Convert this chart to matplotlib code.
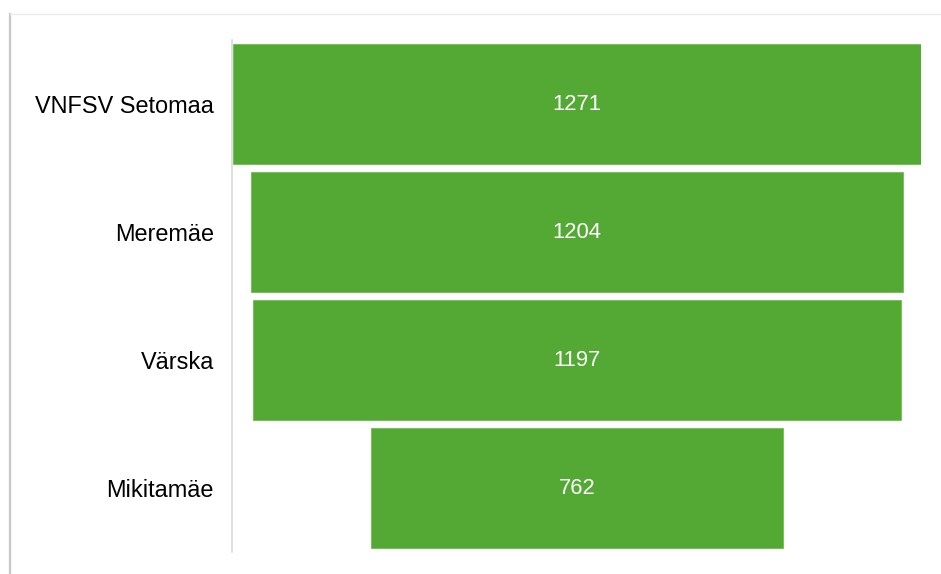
import matplotlib.pyplot as plt
from matplotlib.lines import Line2D

# Andmed
kohad = ['VNFSV Setomaa', 'Meremäe', 'Värska', 'Mikitamäe']
vaartused = [1271, 1204, 1197, 762]

plt.rcParams['font.family'] = ['Liberation Sans', 'DejaVu Sans']

W, H = 941, 574
fig = plt.figure(figsize=(W / 100, H / 100), dpi=100)

# kaardi raam (vasak ja ülemine serv)
fig.add_artist(Line2D([10 / W, 10 / W], [0, 1 - 14 / H], color='#c8c8c8', lw=1.6))
fig.add_artist(Line2D([10 / W, 1], [1 - 14 / H, 1 - 14 / H], color='#ececec', lw=1.0))

ax = fig.add_axes([232 / W, 1 - 552 / H, (921 - 232) / W, (552 - 40) / H])

y = list(range(len(kohad)))
lefts = [-v / 2 for v in vaartused]
ax.barh(y, vaartused, left=lefts, height=0.935, color='#54a935', edgecolor='#6cc04a', lw=0.6)

for yi, v in zip(y, vaartused):
    ax.text(0, yi, str(v), color='white', ha='center', va='center', fontsize=15.8)

ax.set_xlim(-637, 636)
ax.set_ylim(len(kohad) - 0.5, -0.5)
ax.set_yticks(y)
ax.set_yticklabels(kohad, fontsize=16.9)
ax.tick_params(axis='y', length=0, pad=13)
ax.set_xticks([])
for s in ['top', 'right', 'bottom']:
    ax.spines[s].set_visible(False)
ax.spines['left'].set_color('#d9d9d9')
ax.spines['left'].set_linewidth(1.2)

fig.savefig('out.png', dpi=100)
